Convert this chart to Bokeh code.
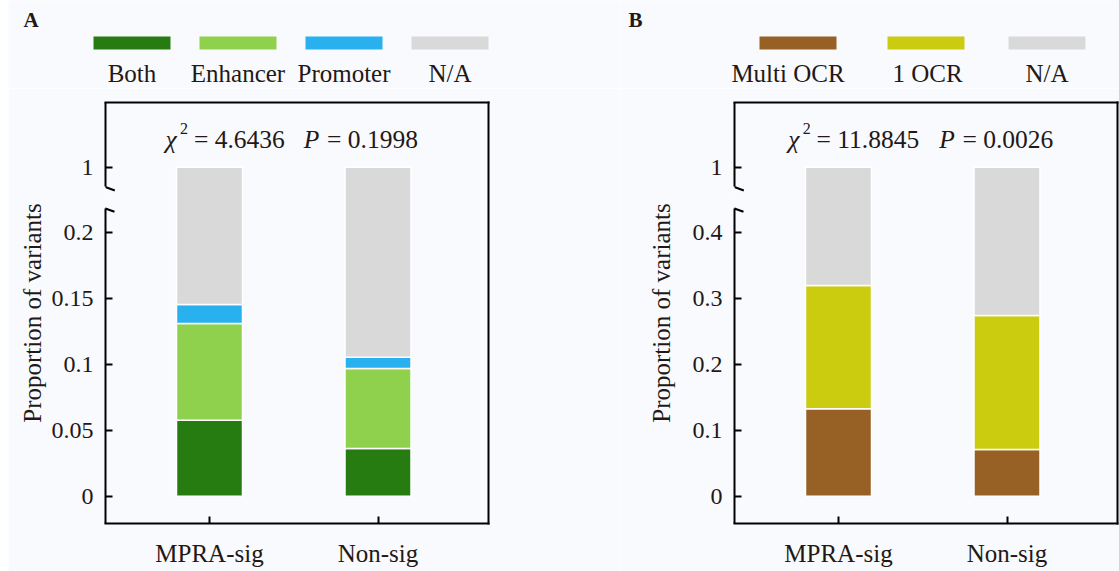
from bokeh.plotting import figure
from bokeh.layouts import row, column, Spacer
from bokeh.models import Range1d, FixedTicker, Arrow, LinearAxis
from bokeh.core.properties import value
from bokeh.embed import file_html
from bokeh.resources import INLINE

# ---------------- data ----------------
categories = ["MPRA-sig", "Non-sig"]

a_series = ["Both", "Enhancer", "Promoter", "N/A"]
a_both = [0.0576, 0.0362]
a_enhancer = [0.0732, 0.0605]
a_promoter = [0.0145, 0.0085]
a_na = [0.8547, 0.8948]
a_chi2 = "4.6436"
a_p = "0.1998"
a_ticks = [0, 0.05, 0.1, 0.15, 0.2]
a_tick_labels = ["0", "0.05", "0.1", "0.15", "0.2"]

b_series = ["Multi OCR", "1 OCR", "N/A"]
b_multi = [0.1324, 0.0708]
b_one = [0.1868, 0.2030]
b_na = [0.6808, 0.7262]
b_chi2 = "11.8845"
b_p = "0.0026"
b_ticks = [0, 0.1, 0.2, 0.3, 0.4]
b_tick_labels = ["0", "0.1", "0.2", "0.3", "0.4"]

top_tick = 1
top_tick_label = "1"
y_title = "Proportion of variants"

# ---------------- styles / layout ----------------
FONT = "Liberation Serif"
TXT = "#231815"
BG = "#F8FAFD"
a_colors = ["#267C10", "#8FD14D", "#28B0EF", "#D9D9D9"]
b_colors = ["#976024", "#CBCC10", "#D9D9D9"]

TOTAL_H = 571
LEG_H = 88
MAIN_H = TOTAL_H - LEG_H
FRAME_W = 383
FRAME_TOP = 102       # page px
FRAME_BOT = 523
LOWMAX_PX = 231.7     # page y of the highest lower-segment tick
TICK_PX = 66          # px between y ticks
CAT_PX = 168.5        # px between categories
BAR_PX = 66
GAP_TOP = 186.7       # page y where the broken axis gap starts
GAP_BOT = 208.3
BASE_FIX = 8.3        # text glyph baseline correction (px)


def text_w(s, fs):
    w = 0.0
    for ch in s:
        if ch.isdigit():
            w += 0.5
        elif ch in ". ":
            w += 0.25
        elif ch == "=":
            w += 0.564
        else:
            w += 0.5
    return w * fs


def make_panel(letter, letter_x, page_x0, fig_w, frame_left, names, series, colors,
               ticks, tick_labels, chi2, pval, sw_x, lab_x, ylab_standoff):
    step = ticks[1] - ticks[0]
    lower_max = ticks[-1]
    ppu = TICK_PX / step

    def disp(v):
        if v <= lower_max + 1e-12:
            return v
        return lower_max + 0.985 * step * (v - lower_max) / (top_tick - lower_max)

    x0 = 1 - 104 / CAT_PX
    x1 = x0 + FRAME_W / CAT_PX

    def X(px):
        return x0 + (px - frame_left) / CAT_PX

    def Y(py):
        return lower_max + (LOWMAX_PX - py) / ppu

    y0 = Y(FRAME_BOT)
    y1 = Y(FRAME_TOP)
    left_border = frame_left - page_x0

    p = figure(width=fig_w, height=MAIN_H, x_range=Range1d(x0, x1), y_range=Range1d(y0, y1),
               min_border_left=left_border, min_border_right=fig_w - left_border - FRAME_W,
               min_border_top=FRAME_TOP - LEG_H, min_border_bottom=TOTAL_H - FRAME_BOT,
               toolbar_location=None, output_backend="svg", frame_align=False,
               background_fill_color=BG, border_fill_color=BG, outline_line_color=None)
    p.grid.visible = False

    xs = [1, 2]
    cum = [0.0] * len(categories)
    for vals, col in zip(series, colors):
        bottoms = [disp(c) for c in cum]
        cum = [c + v for c, v in zip(cum, vals)]
        tops = [disp(min(c, top_tick)) for c in cum]
        p.vbar(x=xs, width=BAR_PX / CAT_PX, bottom=bottoms, top=tops,
               fill_color=col, line_color="white", line_width=1.5)

    # axes
    p.xaxis.ticker = FixedTicker(ticks=xs)
    p.xaxis.major_label_overrides = {x: c for x, c in zip(xs, categories)}
    yt = list(ticks) + [disp(top_tick)]
    p.yaxis.ticker = FixedTicker(ticks=yt)
    ov = {t: l for t, l in zip(ticks, tick_labels)}
    ov[disp(top_tick)] = top_tick_label
    p.yaxis.major_label_overrides = ov
    for ax in (p.xaxis, p.yaxis):
        ax.axis_line_color = "black"
        ax.axis_line_width = 2
        ax.axis_line_cap = "square"
        ax.major_tick_in = 7
        ax.major_tick_out = 0
        ax.major_tick_line_width = 2
        ax.major_tick_line_color = "black"
        ax.minor_tick_line_color = None
        ax.major_label_text_font = FONT
        ax.major_label_text_color = TXT
    # broken left axis: dash pattern measured from the bottom of the frame
    on1 = int(round(FRAME_BOT - GAP_BOT))
    off1 = int(round(GAP_BOT - GAP_TOP))
    p.yaxis.axis_line_cap = "butt"
    p.yaxis.axis_line_dash = f"{on1} {off1} 400"
    p.yaxis.major_label_standoff = 12
    p.xaxis.major_label_standoff = 16
    p.yaxis.major_label_text_font_size = "24px"
    p.xaxis.major_label_text_font_size = "25px"
    p.yaxis.axis_label = y_title
    p.yaxis.axis_label_text_font = FONT
    p.yaxis.axis_label_text_font_size = "25px"
    p.yaxis.axis_label_text_font_style = "normal"
    p.yaxis.axis_label_text_color = TXT
    p.yaxis.axis_label_standoff = ylab_standoff

    # top and right edges of the box
    for side in ("above", "right"):
        ax = LinearAxis(ticker=FixedTicker(ticks=[]), axis_line_color="black",
                        axis_line_width=2, axis_line_cap="square",
                        major_tick_in=0, major_tick_out=0, major_label_standoff=0,
                        minor_tick_in=0, minor_tick_out=0,
                        major_tick_line_color=None, minor_tick_line_color=None)
        p.add_layout(ax, side)

    fl = frame_left
    slashes = [
        (X(fl - 9), Y(GAP_TOP - 3.4), X(fl + 9.3), Y(GAP_TOP + 3.3)),
        (X(fl - 9), Y(GAP_BOT - 3.6), X(fl + 9), Y(GAP_BOT + 3.0)),
    ]
    for (a, b, c, d) in slashes:
        p.add_layout(Arrow(end=None, x_start=a, y_start=b, x_end=c, y_end=d,
                           line_color="black", line_width=2))

    # statistics text
    fs = 25.5
    yb = Y(147.7 - BASE_FIX)
    xs_sup = 14.5
    xs_eq1 = 28.4
    s1 = "= " + chi2
    xs_P = xs_eq1 + text_w(s1, fs) + 19
    xs_eq2 = xs_P + 23.3
    s2 = "= " + pval
    total = xs_eq2 + text_w(s2, fs)
    st = -total / 2 - 2
    pieces = [
        ("\u03c7", st, 0, fs, "italic"),
        ("2", st + xs_sup, -11, 16, "normal"),
        (s1, st + xs_eq1, 0, fs, "normal"),
        ("P", st + xs_P, 0, fs, "italic"),
        (s2, st + xs_eq2, 0, fs, "normal"),
    ]
    for t, xo, yo, f, style in pieces:
        p.text(x=[1.5], y=[yb], text=[t], x_offset=xo, y_offset=yo,
               text_font=value(FONT), text_font_size=f"{f}px", text_font_style=style,
               text_color=TXT, text_align="left", text_baseline="alphabetic")

    # legend strip (its own canvas; data units = page pixels)
    lf = figure(width=fig_w, height=LEG_H, x_range=Range1d(page_x0, page_x0 + fig_w),
                y_range=Range1d(LEG_H, 0), min_border_left=0, min_border_right=0,
                min_border_top=0, min_border_bottom=0, toolbar_location=None,
                output_backend="svg", x_axis_type=None, y_axis_type=None, frame_align=False,
                outline_line_color=None, background_fill_color=BG, border_fill_color=BG)
    lf.grid.visible = False
    lf.quad(left=sw_x, right=[s + 77 for s in sw_x], top=[36] * len(sw_x),
            bottom=[49] * len(sw_x), fill_color=colors, line_color=None)
    lf.text(x=lab_x, y=[81.7 - BASE_FIX] * len(lab_x), text=names, text_font=value(FONT),
            text_font_size="25px", text_color=TXT, text_align="center",
            text_baseline="alphabetic")
    lf.text(x=[letter_x], y=[26.3 - 7], text=[letter], text_font=value(FONT),
            text_font_size="21px", text_font_style="bold", text_color=TXT,
            text_align="left", text_baseline="alphabetic")
    return column(lf, p, spacing=0)


panel_a = make_panel("A", 23, 8, 612, 105, a_series, [a_both, a_enhancer, a_promoter, a_na],
                     a_colors, a_ticks, a_tick_labels, a_chi2, a_p,
                     [93, 199, 305, 411], [131.5, 237.5, 343.5, 449.5], 3)
panel_b = make_panel("B", 628, 620, 499, 734, b_series, [b_multi, b_one, b_na],
                     b_colors, b_ticks, b_tick_labels, b_chi2, b_p,
                     [759, 887, 1008], [787.5, 927, 1046.5], 15)

layout = row(Spacer(width=8, height=TOTAL_H), panel_a, panel_b, spacing=0)
with open("out.html", "w", encoding="utf-8") as f:
    f.write(file_html(layout, INLINE))
